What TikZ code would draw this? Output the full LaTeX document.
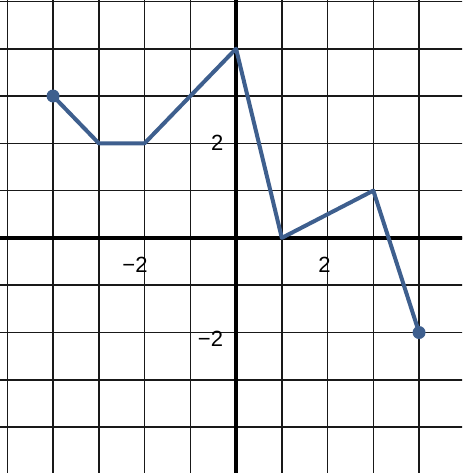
\documentclass[tikz,border=0pt]{standalone}
\usepackage{fontspec}
\setmainfont{Liberation Sans}
\definecolor{plotblue}{HTML}{3E5F8E}
\begin{document}
\begin{tikzpicture}[x=45.75pt,y=47.3pt,
  gridline/.style={line width=1.6pt,black!90},
  axisline/.style={line width=4pt,black},
  plotline/.style={line width=4pt,plotblue,line join=round,line cap=round},
  enddot/.style={circle,fill=plotblue,inner sep=0pt,minimum size=13pt},
  lbl/.style={font=\fontsize{22}{22}\selectfont,inner sep=0pt}]
\useasboundingbox (-5.16,-4.97) rectangle (4.94,5.03);
\clip (-5.16,-4.97) rectangle (4.94,5.03);
\foreach \i in {-5,...,5} {
  \draw[gridline] (\i,-5.3) -- (\i,5.3);
  \draw[gridline] (-5.3,\i) -- (5.3,\i);
}
\draw[axisline] (-5.3,0) -- (5.3,0);
\draw[axisline] (0,-5.3) -- (0,5.3);
\coordinate (p1) at (-4,3);
\coordinate (p2) at (-3,2);
\coordinate (p3) at (-2,2);
\coordinate (p4) at (0,4);
\coordinate (p5) at (1,0);
\coordinate (p6) at (3,1);
\coordinate (p7) at (4,-2);
\draw[plotline] (p1) -- (p2) -- (p3) -- (p4) -- (p5) -- (p6) -- (p7);
\node[enddot] (d1) at (p1) {};
\node[enddot] (d2) at (p7) {};
\node[lbl,anchor=east] (xm2) at (-1.93,-0.56) {−2};
\node[lbl] (xp2) at (1.93,-0.56) {2};
\node[lbl] (yp2) at (-0.41,2.0) {2};
\node[lbl,anchor=east] (ym2) at (-0.28,-2.13) {−2};
\end{tikzpicture}
\end{document}
